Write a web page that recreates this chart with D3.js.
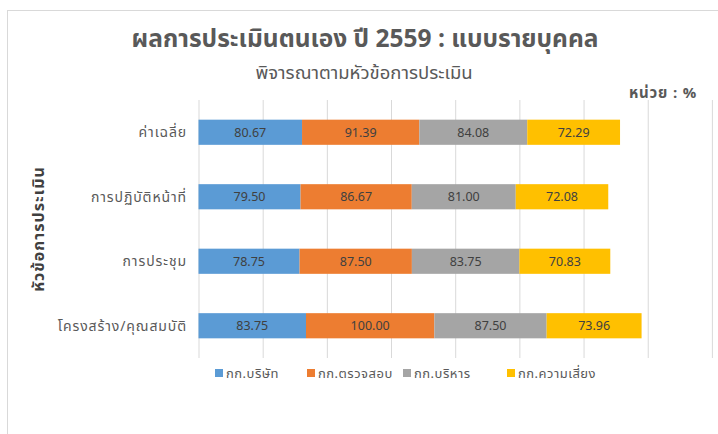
<!DOCTYPE html>
<html>
<head>
<meta charset="utf-8">
<script src="https://cdn.jsdelivr.net/npm/d3@7"></script>
<style>
  body { margin: 0; background: #fff; }
  svg { display: block; font-family: "Noto Sans Thai", Tahoma, "Leelawadee UI", "Noto Sans", sans-serif; }
</style>
</head>
<body>
<svg id="chart" width="718" height="434"></svg>
<script>
const categories = ["ค่าเฉลี่ย", "การปฏิบัติหน้าที่", "การประชุม", "โครงสร้าง/คุณสมบัติ"];
const seriesNames = ["กก.บริษัท", "กก.ตรวจสอบ", "กก.บริหาร", "กก.ความเสี่ยง"];
const board = [80.67, 79.5, 78.75, 83.75];
const audit = [91.39, 86.67, 87.5, 100.0];
const executive = [84.08, 81.0, 83.75, 87.5];
const risk = [72.29, 72.08, 70.83, 73.96];
const xTicks = [0, 50, 100, 150, 200, 250, 300, 350, 400, 450];
const colors = ["#5B9BD5", "#ED7D31", "#A5A5A5", "#FFC000"];

const table = categories.map((c, i) => ({
  cat: c,
  [seriesNames[0]]: board[i],
  [seriesNames[1]]: audit[i],
  [seriesNames[2]]: executive[i],
  [seriesNames[3]]: risk[i]
}));

const svg = d3.select("#chart");

// frame
svg.append("rect")
  .attr("x", 7.5).attr("y", 10.5)
  .attr("width", 760).attr("height", 460)
  .attr("fill", "none").attr("stroke", "#d9d9d9");

const plot = { left: 198.5, top: 100, bottom: 358 };

const x = d3.scaleLinear().domain([0, 450]).range([plot.left, plot.left + 450 * 1.2835]);
const y = d3.scaleBand().domain(categories).range([plot.top, plot.bottom]).paddingInner(0.61).paddingOuter(0.305);

// gridlines
svg.append("g")
  .selectAll("line")
  .data(xTicks)
  .enter()
  .append("line")
  .attr("x1", (d) => x(d) + 0.5).attr("x2", (d) => x(d) + 0.5)
  .attr("y1", plot.top).attr("y2", plot.bottom)
  .attr("stroke", "#d9d9d9").attr("stroke-width", 1);

const stack = d3.stack().keys(seriesNames)(table);

const layers = svg.append("g")
  .selectAll("g")
  .data(stack)
  .enter()
  .append("g")
  .attr("fill", (d, i) => colors[i]);

layers.selectAll("rect")
  .data((d) => d)
  .enter()
  .append("rect")
  .attr("x", (d) => x(d[0]))
  .attr("y", (d) => y(d.data.cat))
  .attr("width", (d) => x(d[1]) - x(d[0]))
  .attr("height", y.bandwidth());

layers.selectAll("text")
  .data((d) => d)
  .enter()
  .append("text")
  .attr("x", (d) => (x(d[0]) + x(d[1])) / 2)
  .attr("y", (d) => y(d.data.cat) + y.bandwidth() / 2)
  .attr("dy", "0.35em")
  .style("text-anchor", "middle")
  .style("font-size", "12.5px")
  .attr("fill", "#404040")
  .text((d) => (d[1] - d[0]).toFixed(2));

// category labels
svg.append("g")
  .selectAll("text")
  .data(categories)
  .enter()
  .append("text")
  .attr("x", 187)
  .attr("y", (d) => y(d) + y.bandwidth() / 2)
  .attr("dy", "0.35em")
  .style("text-anchor", "end")
  .style("font-size", "14px")
  .style("letter-spacing", "0.9px")
  .attr("fill", "#595959")
  .text((d) => d);

// axis title
svg.append("text")
  .attr("transform", `translate(44,${(plot.top + plot.bottom) / 2}) rotate(-90)`)
  .style("text-anchor", "middle")
  .style("font-size", "16px")
  .style("font-weight", "bold")
  .style("letter-spacing", "1px")
  .attr("fill", "#404040")
  .text("หัวข้อการประเมิน");

// titles
svg.append("text")
  .attr("x", 365).attr("y", 47)
  .style("text-anchor", "middle")
  .style("font-size", "24.5px")
  .style("font-weight", "bold")
  .attr("fill", "#595959")
  .text("ผลการประเมินตนเอง ปี 2559 : แบบรายบุคคล");

svg.append("text")
  .attr("x", 364).attr("y", 79)
  .style("text-anchor", "middle")
  .style("font-size", "18.5px")
  .attr("fill", "#595959")
  .text("พิจารณาตามหัวข้อการประเมิน");

svg.append("text")
  .attr("x", 697).attr("y", 98)
  .style("text-anchor", "end")
  .style("font-size", "15px")
  .style("font-weight", "bold")
  .style("letter-spacing", "0.8px")
  .attr("fill", "#595959")
  .text("หน่วย : %");

// legend
const legendX = [215, 307, 403, 507];
const legend = svg.append("g")
  .selectAll("g")
  .data(seriesNames)
  .enter()
  .append("g")
  .attr("transform", (d, i) => `translate(${legendX[i]},373)`);

legend.append("rect")
  .attr("x", 0).attr("y", -4)
  .attr("width", 8).attr("height", 8)
  .attr("fill", (d, i) => colors[i]);

legend.append("text")
  .attr("x", 11).attr("y", 0)
  .attr("dy", "0.35em")
  .style("font-size", "13px")
  .style("letter-spacing", "0.5px")
  .attr("fill", "#595959")
  .text((d) => d);
</script>
</body>
</html>
